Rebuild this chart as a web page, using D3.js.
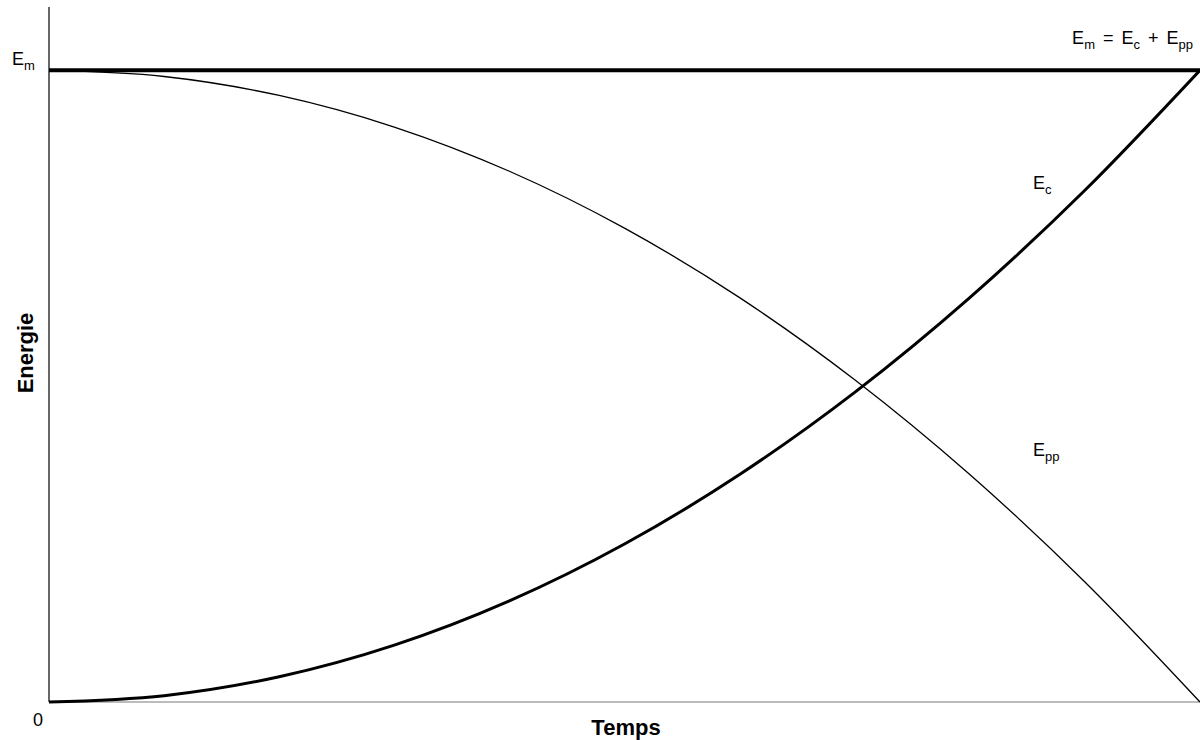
<!DOCTYPE html>
<html>
<head>
<meta charset="utf-8">
<script src="https://cdn.jsdelivr.net/npm/d3@7"></script>
<style>
  body { margin: 0; background: #fff; }
  text { font-family: "Liberation Sans", Arial, sans-serif; fill: #000; }
</style>
</head>
<body>
<div id="area_chart"></div>
<script>
// temps (fraction of duration) and energies (fraction of Em)
const temps = [0, 0.1, 0.2, 0.3, 0.4, 0.5, 0.6, 0.7, 0.8, 0.9, 1];
const ecValues = [0, 0.01, 0.04, 0.09, 0.16, 0.25, 0.36, 0.49, 0.64, 0.81, 1];
const eppValues = [1, 0.99, 0.96, 0.91, 0.84, 0.75, 0.64, 0.51, 0.36, 0.19, 0];
const emValues = [1, 1, 1, 1, 1, 1, 1, 1, 1, 1, 1];

function drawChart(){
    let dimensions = {
        width: 1200,
        height: 740,
        margin: { top: 7, left: 49, right: 0, bottom: 38 }
    };
    dimensions.boundedWidth = dimensions.width - dimensions.margin.left - dimensions.margin.right;
    dimensions.boundedHeight = dimensions.height - dimensions.margin.top - dimensions.margin.bottom;

    const svg = d3.select("#area_chart").append("svg")
        .attr("width", dimensions.width)
        .attr("height", dimensions.height);

    const bounded = svg.append("g")
        .attr("transform", `translate(${dimensions.margin.left},${dimensions.margin.top})`);

    const xScale = d3.scaleLinear()
        .domain([0, 1])
        .range([0, dimensions.boundedWidth]);

    const yScale = d3.scaleLinear()
        .domain([0, 1.1])
        .range([dimensions.boundedHeight, 0]);

    const line = (vals) => d3.line()
        .x((d, i) => xScale(temps[i]))
        .y(d => yScale(d))
        .curve(d3.curveMonotoneX)(vals);

    // axes
    bounded.append("line")
        .attr("x1", 0).attr("x2", dimensions.boundedWidth)
        .attr("y1", yScale(0)).attr("y2", yScale(0))
        .attr("stroke", "#7a7a7a").attr("stroke-width", 1.2);
    bounded.append("line")
        .attr("x1", 0).attr("x2", 0)
        .attr("y1", yScale(1.1)).attr("y2", yScale(0))
        .attr("stroke", "#000").attr("stroke-width", 1.2);

    bounded.append("path")
        .attr("d", line(eppValues))
        .attr("fill", "none").attr("stroke", "#000").attr("stroke-width", 1.3);

    bounded.append("path")
        .attr("d", line(ecValues))
        .attr("fill", "none").attr("stroke", "#000").attr("stroke-width", 3);

    bounded.append("path")
        .attr("d", line(emValues))
        .attr("fill", "none").attr("stroke", "#000").attr("stroke-width", 4);

    // labels with subscripts
    const label = (x, y, parts, anchor) => {
        const t = svg.append("text")
            .attr("x", x).attr("y", y)
            .attr("font-size", 18)
            .attr("word-spacing", 3)
            .attr("text-anchor", anchor || "start");
        let shift = 0;
        parts.forEach(p => {
            if (p.sub) {
                t.append("tspan").attr("font-size", 13).attr("dy", 5 - shift).text(p.sub);
                shift = 5;
            } else {
                t.append("tspan").attr("dy", -shift).text(p.t);
                shift = 0;
            }
        });
    };

    label(12, 65, [{t: "E"}, {sub: "m"}]);
    label(1193, 44, [{t: "E"}, {sub: "m"}, {t: " = E"}, {sub: "c"}, {t: " + E"}, {sub: "pp"}], "end");
    label(1033, 189, [{t: "E"}, {sub: "c"}]);
    label(1033, 456, [{t: "E"}, {sub: "pp"}]);

    svg.append("text")
        .attr("x", 38).attr("y", 726)
        .attr("font-size", 18)
        .attr("text-anchor", "middle")
        .text("0");

    svg.append("text")
        .attr("x", 626).attr("y", 735)
        .attr("font-size", 22).attr("font-weight", "bold")
        .attr("text-anchor", "middle")
        .text("Temps");

    svg.append("text")
        .attr("transform", "translate(33,353) rotate(-90)")
        .attr("font-size", 22).attr("font-weight", "bold")
        .attr("text-anchor", "middle")
        .text("Energie");
}

drawChart();
</script>
</body>
</html>
